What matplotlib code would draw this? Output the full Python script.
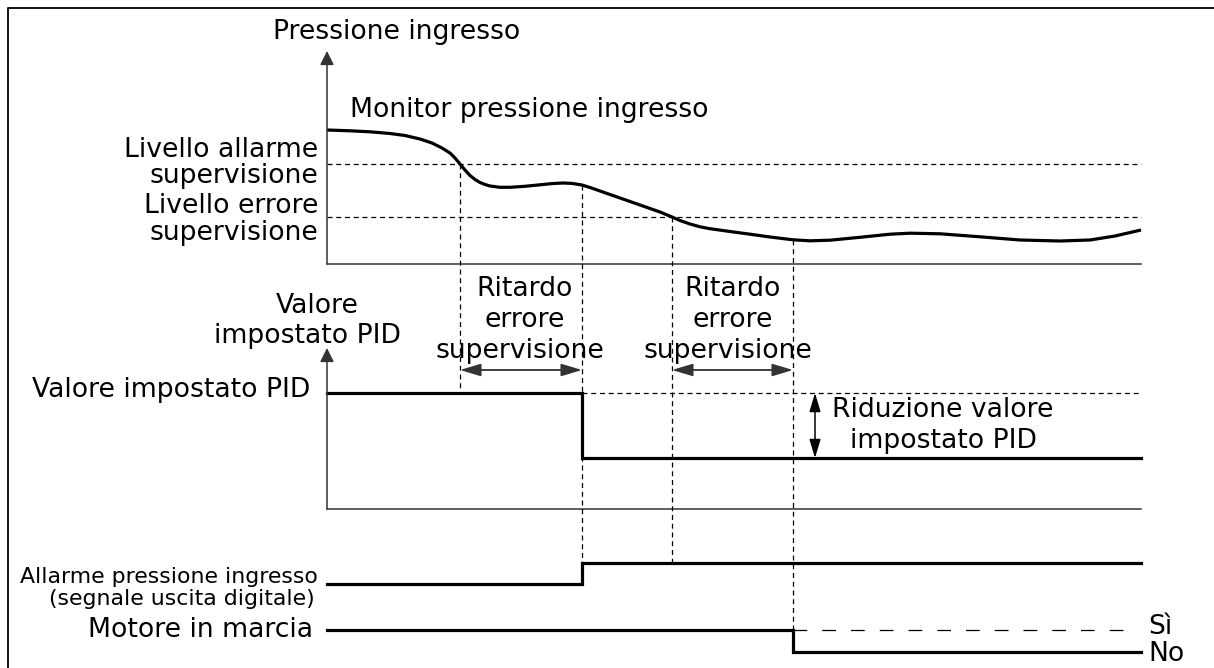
import matplotlib
matplotlib.use('Agg')
import matplotlib.pyplot as plt
from matplotlib.patches import ArrowStyle

# diagram works in pixel-like units (x to the right, y downwards)
W, H = 1214, 668

# time axis
t0, t1 = 327, 1141
t_alarm_cross = 460   # pressure falls below alarm level
t_alarm_on = 582      # alarm delay elapsed -> alarm on, setpoint reduced
t_error_cross = 672   # pressure falls below fault level
t_trip = 793          # fault delay elapsed -> motor stops

# top panel: inlet pressure
p_axis_top, p_axis_bottom = 51, 264
alarm_level = 164
error_level = 217
pressure_t = [327, 350, 370, 390, 405, 420, 432, 442, 450, 455, 460, 465, 470, 475,
              480, 485, 490, 500, 510, 525, 540, 552, 563, 572, 582, 590, 600, 620,
              640, 660, 672, 680, 690, 700, 710, 730, 750, 770, 793, 810, 830, 860,
              890, 910, 940, 980, 1020, 1060, 1090, 1115, 1141]
pressure_y = [130, 130.8, 131.8, 133.5, 135.5, 139, 143, 148, 153, 158, 164, 170, 175.5, 179.5,
              182.5, 184.5, 186, 187.3, 187.3, 186.3, 184.8, 183.6, 183, 183.4, 185, 187.5, 191, 198,
              205, 212, 217, 220.5, 224, 226.8, 228.7, 231.5, 234.2, 237, 239.8, 240.8, 240.2, 237.3,
              234.2, 233.2, 233.8, 236.8, 240, 241, 240, 236, 230]

# middle panel: PID setpoint
sp_axis_top, sp_axis_bottom = 348, 509
sp_high, sp_low = 393, 458
delay_arrow_y = 370
reduction_arrow_x = 815

# bottom panel: digital signals
alarm_off, alarm_on = 584, 563
motor_yes, motor_no = 630, 652

fig = plt.figure(figsize=(W / 100, H / 100), dpi=100)
ax = fig.add_axes([0, 0, 1, 1])
ax.set_xlim(0, W)
ax.set_ylim(H, 0)
ax.axis('off')

ink = '#000000'
axis_c = '#333333'
fs = 19.2

# frame
ax.plot([8, 8, W], [H, 8, 8], color='#111111', lw=1.4)

# axes with arrows
def axis_with_arrow(top, bottom):
    ax.plot([t0, t1], [bottom, bottom], color=axis_c, lw=1.1)
    ax.annotate('', xy=(t0, top), xytext=(t0, bottom),
                arrowprops=dict(arrowstyle='-|>', mutation_scale=21, lw=1.1,
                                color=axis_c, shrinkA=0, shrinkB=0))

axis_with_arrow(p_axis_top, p_axis_bottom)
axis_with_arrow(sp_axis_top, sp_axis_bottom)

# level lines
dash = dict(color=ink, lw=0.9, dashes=(4, 3))
ax.plot([t0, t1], [alarm_level, alarm_level], **dash)
ax.plot([t0, t1], [error_level, error_level], **dash)

# pressure curve
ax.plot(pressure_t, pressure_y, color=ink, lw=2.3, solid_capstyle='butt',
        solid_joinstyle='round')

# event markers
ax.plot([t_alarm_cross, t_alarm_cross], [alarm_level, sp_high - 4], **dash)
ax.plot([t_alarm_on, t_alarm_on], [185, alarm_on], **dash)
ax.plot([t_error_cross, t_error_cross], [error_level, alarm_on], **dash)
ax.plot([t_trip, t_trip], [240, motor_yes], **dash)

# setpoint
ax.plot([t0, t_alarm_on, t_alarm_on, t1], [sp_high, sp_high, sp_low, sp_low],
        color=ink, lw=2.3, solid_joinstyle='miter')
ax.plot([t_alarm_on, t1], [sp_high, sp_high], **dash)

# delay arrows
dbl = ArrowStyle('<|-|>', head_length=0.6, head_width=0.18)
for a, b in [(t_alarm_cross, t_alarm_on), (t_error_cross, t_trip)]:
    ax.annotate('', xy=(b, delay_arrow_y), xytext=(a, delay_arrow_y),
                arrowprops=dict(arrowstyle=dbl, mutation_scale=21, lw=1.3,
                                color=axis_c, shrinkA=0, shrinkB=0))
ax.annotate('', xy=(reduction_arrow_x, sp_low), xytext=(reduction_arrow_x, sp_high),
            arrowprops=dict(arrowstyle=dbl, mutation_scale=19, lw=1.1,
                            color=ink, shrinkA=0, shrinkB=0))

# alarm output
ax.plot([t0, t_alarm_on, t_alarm_on, t1], [alarm_off, alarm_off, alarm_on, alarm_on],
        color=ink, lw=2.3, solid_joinstyle='miter')

# motor running
ax.plot([t0, t_trip, t_trip, t1], [motor_yes, motor_yes, motor_no, motor_no],
        color=ink, lw=2.3, solid_joinstyle='miter')
ax.plot([t_trip, 1130], [motor_yes, motor_yes], color=ink, lw=0.9, dashes=(11, 12))

# texts
def txt(x, y, s, ha='left', size=fs):
    ax.text(x, y, s, ha=ha, va='baseline', fontsize=size, color=ink,
            family='DejaVu Sans')

txt(273, 39, 'Pressione ingresso')
txt(350, 117, 'Monitor pressione ingresso')
txt(318, 157, 'Livello allarme', ha='right')
txt(318, 183, 'supervisione', ha='right')
txt(318, 213, 'Livello errore', ha='right')
txt(318, 240, 'supervisione', ha='right')

txt(317, 313, 'Valore', ha='center')
txt(307, 343, 'impostato PID', ha='center')
txt(310, 397, 'Valore impostato PID', ha='right')

for cx in [525, 733]:
    txt(cx, 296, 'Ritardo', ha='center')
    txt(cx, 327, 'errore', ha='center')
    txt(cx - 5, 358, 'supervisione', ha='center')

txt(943, 417, 'Riduzione valore', ha='center')
txt(943, 448, 'impostato PID', ha='center')

txt(318, 583, 'Allarme pressione ingresso', ha='right', size=15.8)
txt(315, 605, '(segnale uscita digitale)', ha='right', size=15.8)
txt(313, 637, 'Motore in marcia', ha='right')
txt(1148, 634, 'Sì')
txt(1148, 661, 'No')

fig.savefig('out.png', dpi=100)
